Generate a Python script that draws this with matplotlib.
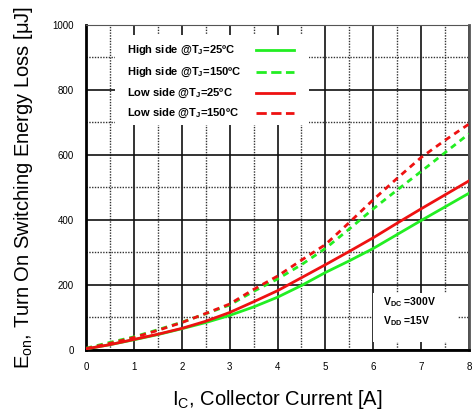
import matplotlib.pyplot as plt
import matplotlib.patches as patches
from matplotlib.lines import Line2D
import numpy as np

plt.rcParams['font.family'] = ['Liberation Sans', 'DejaVu Sans']
plt.rcParams['mathtext.fontset'] = 'custom'
plt.rcParams['mathtext.rm'] = 'Liberation Sans'
plt.rcParams['mathtext.bf'] = 'Liberation Sans:bold'

# collector current [A]
ic = [0, 0.5, 1, 1.5, 2, 2.5, 3, 3.5, 4, 4.5, 5, 5.5, 6, 6.5, 7, 7.5, 8]
# turn on energy [uJ]
hs_25 = [3, 16, 31, 47, 65, 84, 106, 132, 162, 198, 238, 274, 312, 355, 398, 440, 482]
hs_150 = [5, 23, 40, 62, 85, 111, 138, 180, 218, 262, 312, 372, 434, 492, 549, 607, 665]
ls_25 = [3, 16, 32, 48, 66, 88, 115, 148, 182, 222, 262, 303, 345, 390, 434, 477, 520]
ls_150 = [4, 20, 38, 60, 84, 112, 141, 186, 227, 276, 324, 392, 462, 528, 592, 645, 695]

labels = [r'High side @T$_\mathbf{J}$=25ºC', r'High side @T$_\mathbf{J}$=150ºC',
          r'Low side @T$_\mathbf{J}$=25ºC', r'Low side @T$_\mathbf{J}$=150ºC']

fig = plt.figure(figsize=(4.73, 4.15), dpi=100)
ax = fig.add_axes([0.182, 0.157, 0.8095, 0.783])

green = '#22ee22'
red = '#ee1111'
dash = (0, (2.2, 1.8))
l1, = ax.plot(ic, hs_25, color=green, lw=2, zorder=5)
l2, = ax.plot(ic, hs_150, color=green, lw=2, ls=dash, zorder=5)
l3, = ax.plot(ic, ls_25, color=red, lw=2, zorder=6)
l4, = ax.plot(ic, ls_150, color=red, lw=2, ls=dash, zorder=6)

ax.set_xlim(0, 8)
ax.set_ylim(0, 1000)
ax.set_xticks(np.arange(0, 9, 1))
ax.set_yticks(np.arange(0, 1001, 200))
ax.set_xticks(np.arange(0.5, 8, 1), minor=True)
ax.set_yticks(np.arange(100, 1000, 200), minor=True)
ax.grid(which='major', color='#111111', lw=1.2, ls='-')
ax.grid(which='minor', color='#333333', lw=1.0, ls=(0, (1, 1)))
ax.set_axisbelow(True)
ax.tick_params(which='both', length=0, labelsize=7, pad=9)

for s in ['left', 'bottom']:
    ax.spines[s].set_linewidth(2)
    ax.spines[s].set_color('black')
ax.spines['right'].set_linewidth(2)
ax.spines['right'].set_color('#555555')
ax.spines['top'].set_linewidth(0.8)
ax.spines['top'].set_color('#555555')

ax.set_xlabel(r'I$_\mathregular{C}$, Collector Current [A]', fontsize=14.5, labelpad=11)
ax.set_ylabel(r'E$_\mathregular{on}$, Turn On Switching Energy Loss [μJ]', fontsize=14.5, labelpad=12)

# legend box drawn by hand: text left, line sample right
ax.add_patch(patches.Rectangle((0.076, 0.692), 0.506, 0.277, transform=ax.transAxes,
                               facecolor='white', edgecolor='none', zorder=8))
rows = [0.922, 0.855, 0.79, 0.728]
for line, lab, ry in zip([l1, l2, l3, l4], labels, rows):
    ax.text(0.107, ry, lab, transform=ax.transAxes, fontsize=8, weight='bold',
            va='center', zorder=9)
    ax.add_line(Line2D([0.444, 0.543], [ry, ry], transform=ax.transAxes,
                       color=line.get_color(), lw=2, ls=line.get_linestyle(), zorder=9))

# condition box
ax.add_patch(patches.Rectangle((6.0, 25), 1.77, 150, facecolor='white',
                               edgecolor='none', zorder=3))
ax.text(6.2, 148, r'V$_\mathbf{DC}$ =300V', fontsize=7.5, weight='bold', va='center', zorder=4)
ax.text(6.2, 88, r'V$_\mathbf{DD}$ =15V', fontsize=7.5, weight='bold', va='center', zorder=4)

fig.savefig('out.png', dpi=100)
